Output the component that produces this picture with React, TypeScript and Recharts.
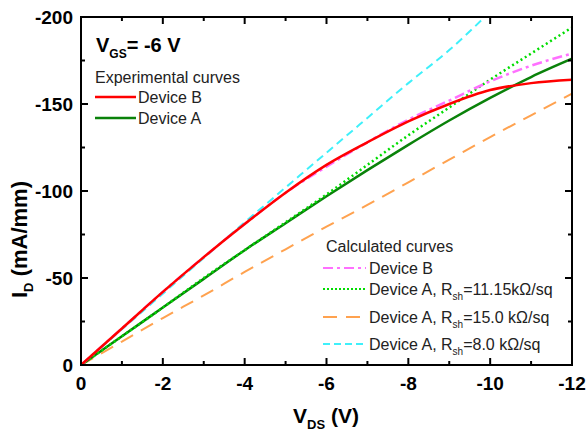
import { LineChart, Line, XAxis, YAxis } from 'recharts';

// V_DS sweep (V)
const VDS = [0, -1, -2, -3, -4, -5, -6, -7, -8, -9, -10, -11, -12];

// measured I_D (mA/mm)
const EXP_B = [0, -21, -42, -62, -81, -99, -115, -128, -140, -150, -158, -162, -164];
const EXP_A = [0, -16.5, -33, -49.5, -66, -81.5, -97, -112, -126.5, -140.5, -153.5, -165.5, -176];

// calculated I_D (mA/mm)
const CALC_B = [0, -21, -42, -62, -81, -99, -114, -128, -141, -152, -163, -172, -179];
const CALC_A_1115 = [0, -16.5, -33, -50, -66, -82, -98, -115, -132, -148, -164, -179, -194];
const CALC_A_150 = [0, -13.5, -27, -40, -53.5, -66.5, -79.5, -92, -105, -118, -131, -143.5, -156];
const CALC_A_80 = [0, -20.5, -41, -61.5, -82, -102, -122, -142, -162, -181, -203, null, null];

const X_TICKS = [0, -1, -2, -3, -4, -5, -6, -7, -8, -9, -10, -11, -12];
const Y_TICKS = [0, -25, -50, -75, -100, -125, -150, -175, -200];

const X_MIN = -12;
const Y_MIN = -200;

const FONT = 'Arial, "Liberation Sans", sans-serif';

// plot box (px)
const BOX = { left: 81, right: 572, top: 17, bottom: 365 };

const data = VDS.map((v, i) => ({
    vds: v,
    expB: EXP_B[i],
    expA: EXP_A[i],
    calcB: CALC_B[i],
    calcA1115: CALC_A_1115[i],
    calcA150: CALC_A_150[i],
    calcA80: CALC_A_80[i],
}));

const BottomTick = (p: any) => {
    const v = p.payload.value;
    const major = v % 2 === 0;
    return (
        <g>
            <line x1={p.x} x2={p.x} y1={p.y} y2={p.y - (major ? 7 : 4)} stroke="#000" strokeWidth={2} />
            {major && (
                <text x={p.x} y={p.y + 25} textAnchor="middle" fontFamily={FONT} fontWeight="bold" fontSize={19} fill="#000">
                    {v}
                </text>
            )}
        </g>
    );
};

const LeftTick = (p: any) => {
    const v = p.payload.value;
    const major = v % 50 === 0;
    return (
        <g>
            <line x1={p.x} x2={p.x + (major ? 7 : 4)} y1={p.y} y2={p.y} stroke="#000" strokeWidth={2} />
            {major && (
                <text x={p.x - 8} y={p.y + 7} textAnchor="end" fontFamily={FONT} fontWeight="bold" fontSize={19} fill="#000">
                    {v}
                </text>
            )}
        </g>
    );
};

const LegendRow = ({ y, color, dash, width, children }: any) => (
    <g>
        <line x1={323} x2={366} y1={y} y2={y} stroke={color} strokeWidth={width} strokeDasharray={dash} />
        <text x={369} y={y + 6} fontFamily={FONT} fontSize={16} fill="#222">{children}</text>
    </g>
);

// mirrored frame on the top and right sides
const Frame = () => {
    const w = BOX.right - BOX.left;
    const h = BOX.bottom - BOX.top;
    return (
        <g>
            <rect x={BOX.left} y={BOX.top} width={w} height={h} fill="none" stroke="#000" strokeWidth={2} />
            {X_TICKS.map((v) => {
                const x = BOX.left + (v / X_MIN) * w;
                return <line key={'fx' + v} x1={x} x2={x} y1={BOX.top} y2={BOX.top + (v % 2 === 0 ? 7 : 4)} stroke="#000" strokeWidth={2} />;
            })}
            {Y_TICKS.map((v) => {
                const y = BOX.bottom - (v / Y_MIN) * h;
                return <line key={'fy' + v} x1={BOX.right} x2={BOX.right - (v % 50 === 0 ? 7 : 4)} y1={y} y2={y} stroke="#000" strokeWidth={2} />;
            })}
        </g>
    );
};

export default function App() {
    return (
        <div style={{ position: 'absolute', left: 0, top: 0, width: 588, height: 434, background: '#fff' }}>
            <LineChart width={588} height={434} data={data} margin={{ top: BOX.top, right: 588 - BOX.right, left: 0, bottom: 0 }}>
                <XAxis
                    dataKey="vds"
                    type="number"
                    domain={[X_MIN, 0]}
                    reversed
                    allowDataOverflow
                    ticks={X_TICKS}
                    interval={0}
                    height={434 - BOX.bottom}
                    tickSize={0}
                    tickMargin={0}
                    tickLine={false}
                    tick={BottomTick}
                    axisLine={{ stroke: '#000', strokeWidth: 2 }}
                />
                <YAxis
                    type="number"
                    domain={[Y_MIN, 0]}
                    reversed
                    allowDataOverflow
                    ticks={Y_TICKS}
                    interval={0}
                    width={BOX.left}
                    tickSize={0}
                    tickMargin={0}
                    tickLine={false}
                    tick={LeftTick}
                    axisLine={{ stroke: '#000', strokeWidth: 2 }}
                />

                <Line dataKey="calcA150" type="monotone" stroke="#ffa24f" strokeWidth={2} strokeDasharray="14 9" dot={false} isAnimationActive={false} />
                <Line dataKey="calcA80" type="monotone" stroke="#3ff0fa" strokeWidth={2} strokeDasharray="8 5" dot={false} isAnimationActive={false} />
                <Line dataKey="expA" type="monotone" stroke="#0a820a" strokeWidth={2.5} dot={false} isAnimationActive={false} />
                <Line dataKey="calcA1115" type="monotone" stroke="#00dd00" strokeWidth={2.5} strokeDasharray="2 3" dot={false} isAnimationActive={false} />
                <Line dataKey="calcB" type="monotone" stroke="#ff70ff" strokeWidth={2.5} strokeDasharray="10 4 3 4" dot={false} isAnimationActive={false} />
                <Line dataKey="expB" type="monotone" stroke="#ff0000" strokeWidth={2.5} dot={false} isAnimationActive={false} />
            </LineChart>

            <svg width={588} height={434} style={{ position: 'absolute', left: 0, top: 0, pointerEvents: 'none' }}>
                <Frame />

                {/* gate bias */}
                <text x={96} y={52} fontFamily={FONT} fontWeight="bold" fontSize={20} fill="#000">
                    V<tspan dy={6} fontSize={12}>GS</tspan><tspan dy={-6}>= -6 V</tspan>
                </text>

                {/* experimental legend */}
                <text x={95} y={83} fontFamily={FONT} fontSize={16} fill="#222">Experimental curves</text>
                <line x1={95} x2={136} y1={97} y2={97} stroke="#ff0000" strokeWidth={2.5} />
                <text x={138} y={103} fontFamily={FONT} fontSize={16} fill="#222">Device B</text>
                <line x1={95} x2={136} y1={118} y2={118} stroke="#0a820a" strokeWidth={2.5} />
                <text x={138} y={124} fontFamily={FONT} fontSize={16} fill="#222">Device A</text>

                {/* calculated legend */}
                <text x={326} y={252} fontFamily={FONT} fontSize={16} fill="#222">Calculated curves</text>
                <LegendRow y={268} color="#ff70ff" dash="10 4 3 4" width={2}>Device B</LegendRow>
                <LegendRow y={289} color="#00dd00" dash="2 2" width={2}>
                    Device A, R<tspan dy={5} fontSize={10}>sh</tspan><tspan dy={-5}>=11.15kΩ/sq</tspan>
                </LegendRow>
                <LegendRow y={317} color="#ffa24f" dash="14 9" width={2}>
                    Device A, R<tspan dy={5} fontSize={10}>sh</tspan><tspan dy={-5}>=15.0 kΩ/sq</tspan>
                </LegendRow>
                <LegendRow y={344} color="#3ff0fa" dash="7 4" width={2}>
                    Device A, R<tspan dy={5} fontSize={10}>sh</tspan><tspan dy={-5}>=8.0 kΩ/sq</tspan>
                </LegendRow>

                {/* axis titles */}
                <text x={293} y={423} fontFamily={FONT} fontWeight="bold" fontSize={21} fill="#000">
                    V<tspan dy={6} fontSize={13}>DS</tspan><tspan dy={-6}> (V)</tspan>
                </text>
                <text transform="translate(27,298) rotate(-90)" fontFamily={FONT} fontWeight="bold" fontSize={22} fill="#000">
                    I<tspan dy={6} fontSize={13}>D</tspan><tspan dy={-6}> (mA/mm)</tspan>
                </text>
            </svg>
        </div>
    );
}
